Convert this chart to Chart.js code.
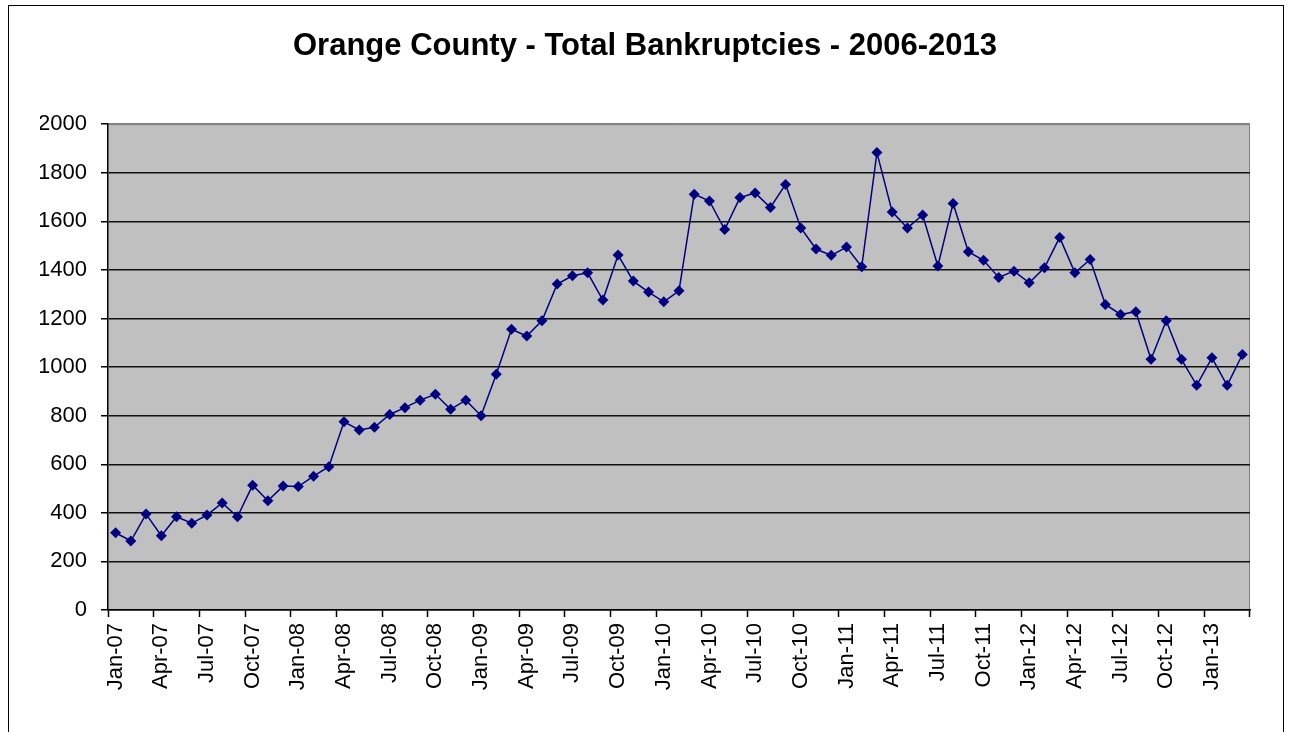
<!DOCTYPE html>
<html>
<head>
<meta charset="utf-8">
<script src="https://cdn.jsdelivr.net/npm/chart.js@4"></script>
<style>
  body { margin: 0; background: #fff; }
  canvas { display: block; }
</style>
</head>
<body>
<canvas id="myChart" width="1290" height="732"></canvas>
<script>
// month labels, Jan-07 .. Mar-13
const months = [
  'Jan-07','Feb-07','Mar-07','Apr-07','May-07','Jun-07','Jul-07','Aug-07','Sep-07','Oct-07','Nov-07','Dec-07',
  'Jan-08','Feb-08','Mar-08','Apr-08','May-08','Jun-08','Jul-08','Aug-08','Sep-08','Oct-08','Nov-08','Dec-08',
  'Jan-09','Feb-09','Mar-09','Apr-09','May-09','Jun-09','Jul-09','Aug-09','Sep-09','Oct-09','Nov-09','Dec-09',
  'Jan-10','Feb-10','Mar-10','Apr-10','May-10','Jun-10','Jul-10','Aug-10','Sep-10','Oct-10','Nov-10','Dec-10',
  'Jan-11','Feb-11','Mar-11','Apr-11','May-11','Jun-11','Jul-11','Aug-11','Sep-11','Oct-11','Nov-11','Dec-11',
  'Jan-12','Feb-12','Mar-12','Apr-12','May-12','Jun-12','Jul-12','Aug-12','Sep-12','Oct-12','Nov-12','Dec-12',
  'Jan-13','Feb-13','Mar-13'
];

// total bankruptcies per month
const bankruptcies = [
  318, 284, 395, 306, 384, 357, 391, 441, 384, 514, 450, 510,
  508, 551, 590, 775, 741, 752, 805, 833, 864, 888, 826, 864,
  800, 971, 1156, 1128, 1191, 1342, 1376, 1388, 1276, 1461, 1354, 1309,
  1269, 1314, 1712, 1684, 1566, 1698, 1717, 1657, 1752, 1573, 1486, 1460,
  1494, 1413, 1883, 1639, 1573, 1626, 1416, 1674, 1475, 1440, 1369, 1395,
  1347, 1409, 1534, 1388, 1443, 1258, 1217, 1228, 1032, 1191, 1032, 925,
  1038, 925, 1052
];

const yMin = 0;
const yMax = 2000;
const yStep = 200;

const FONT = 'Arial, "Liberation Sans", sans-serif';

// grey plot area + outer frame, like the old Excel look
const backdrop = {
  id: 'backdrop',
  beforeDraw(chart) {
    const { ctx, chartArea: a } = chart;
    ctx.save();
    ctx.fillStyle = '#fff';
    ctx.fillRect(0, 0, chart.width, chart.height);
    ctx.strokeStyle = '#000';
    ctx.lineWidth = 1;
    ctx.strokeRect(8.5, 5.5, 1275, 740);
    ctx.fillStyle = '#C0C0C0';
    ctx.fillRect(a.left, a.top, a.right - a.left, a.bottom - a.top);
    ctx.strokeStyle = '#808080';
    ctx.beginPath();
    ctx.moveTo(a.left, a.top + 0.5);
    ctx.lineTo(a.right - 0.5, a.top + 0.5);
    ctx.lineTo(a.right - 0.5, a.bottom);
    ctx.stroke();
    ctx.restore();
  }
};

const ctx = document.getElementById('myChart').getContext('2d');

new Chart(ctx, {
  type: 'line',
  data: {
    labels: months,
    datasets: [{
      label: 'Total Bankruptcies',
      data: bankruptcies,
      borderColor: '#000080',
      backgroundColor: '#000080',
      borderWidth: 1.5,
      tension: 0,
      pointStyle: 'rectRot',
      pointRadius: 5.5,
      pointBorderWidth: 0,
      pointBackgroundColor: '#000080'
    }]
  },
  options: {
    responsive: false,
    animation: false,
    layout: { padding: { left: 40, right: 40, top: 0, bottom: 0 } },
    plugins: {
      legend: { display: false },
      tooltip: { enabled: false },
      title: {
        display: true,
        text: 'Orange County - Total Bankruptcies - 2006-2013',
        color: '#000',
        font: { family: FONT, size: 31, weight: 'bold' },
        padding: { top: 28, bottom: 59 }
      }
    },
    scales: {
      x: {
        type: 'category',
        offset: true,
        afterFit(scale) { scale.height = 122; },
        grid: {
          offset: true,
          drawOnChartArea: false,
          drawTicks: true,
          tickLength: 7,
          tickColor: (c) => (c.index === undefined || c.index % 3 === 0) ? '#000' : 'rgba(0,0,0,0)',
          tickWidth: 1.5
        },
        border: { color: '#000', width: 1.5 },
        ticks: {
          autoSkip: false,
          maxRotation: 90,
          minRotation: 90,
          padding: 6,
          color: '#000',
          font: { family: FONT, size: 22 },
          callback: function (val, i) { return i % 3 === 0 ? this.getLabelForValue(val) : ''; }
        }
      },
      y: {
        min: yMin,
        max: yMax,
        afterFit(scale) { scale.width = 68; },
        grid: {
          color: (c) => (c.tick && c.tick.value === yMax) ? '#808080' : '#111',
          lineWidth: 1.5,
          tickLength: 7,
          tickColor: '#000'
        },
        border: { color: '#000', width: 1.5 },
        ticks: {
          stepSize: yStep,
          padding: 14,
          color: '#000',
          font: { family: FONT, size: 22 },
          callback: (v) => String(v)
        }
      }
    }
  },
  plugins: [backdrop]
});
</script>
</body>
</html>
